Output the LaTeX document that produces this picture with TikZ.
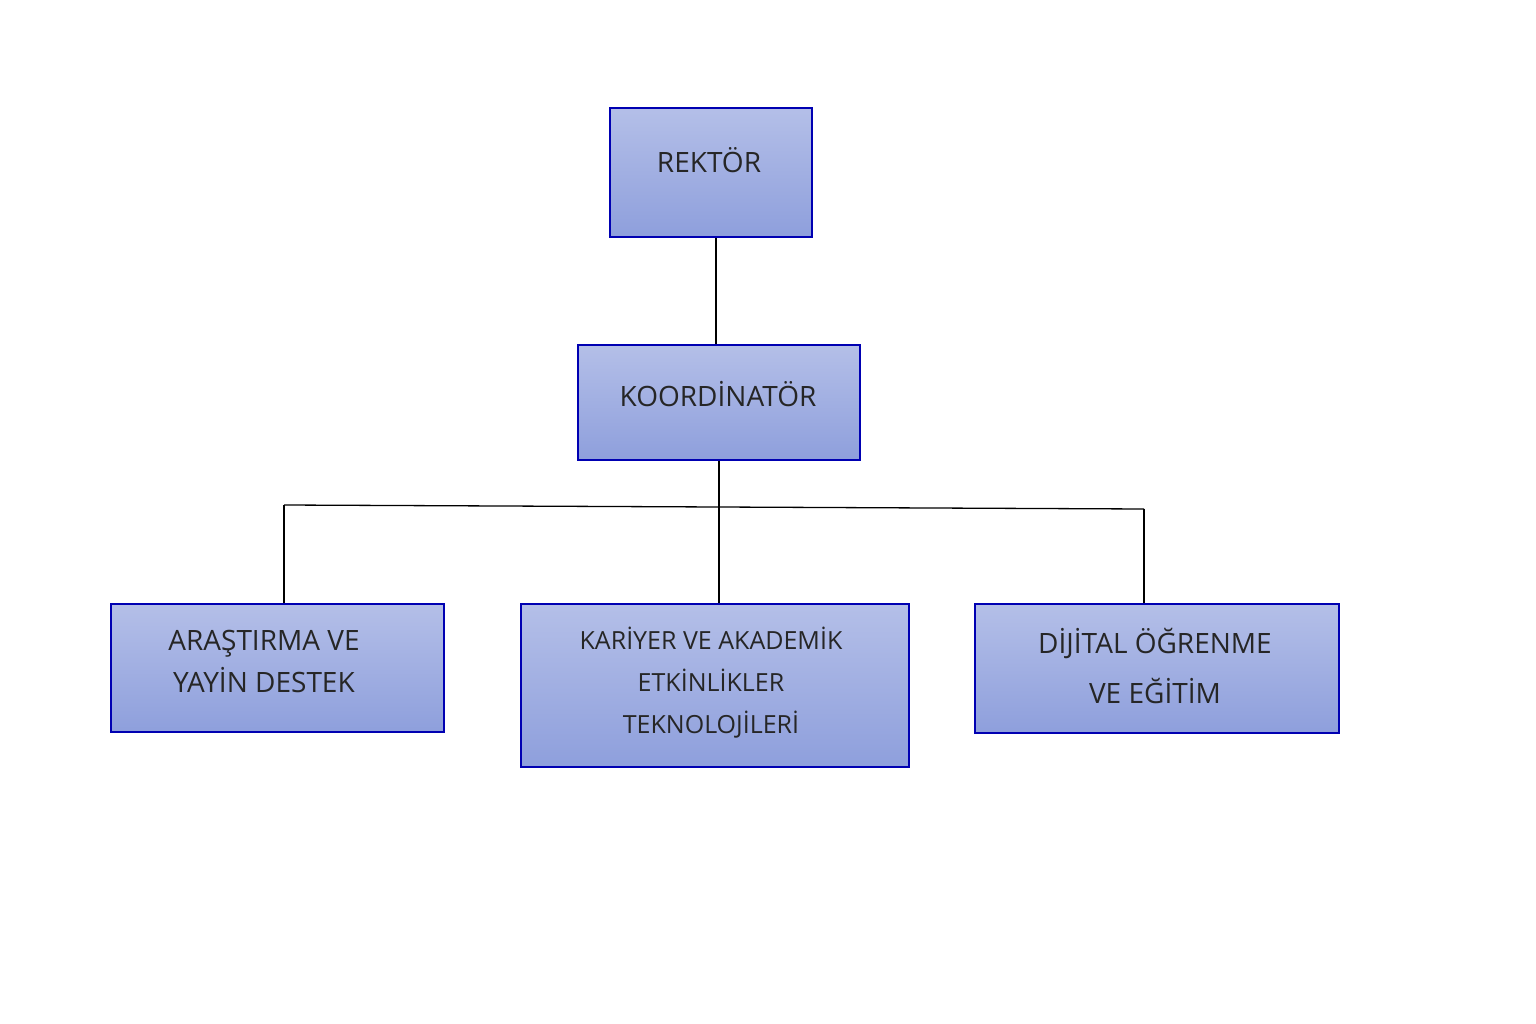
\documentclass[tikz,border=0pt]{standalone}
\usepackage{fontspec}
\setmainfont{Open Sans}
\usetikzlibrary{positioning}
\tikzset{unitbox/.style={draw=blue!70!black, line width=1.2pt, top color=boxtop, bottom color=boxbot, rectangle, inner sep=0pt},
         boxtext/.style={font=\fontsize{28}{42}\selectfont, align=center, text=black!85},
         link/.style={line width=1.3pt, black}}
\definecolor{boxtop}{HTML}{B4BFE8}
\definecolor{boxbot}{HTML}{8E9FDC}
\begin{document}
\begin{tikzpicture}[x=1pt,y=-1pt]
    \useasboundingbox (0,0) rectangle (1536,1024);
    % boxes
    \node[unitbox, minimum width=202pt, minimum height=129pt] (rektor) at (711,172.5) {};
    \node[unitbox, minimum width=282pt, minimum height=115pt] (koord) at (719,402.5) {};
    \node[unitbox, minimum width=333pt, minimum height=128pt] (arastirma) at (277.5,668) {};
    \node[unitbox, minimum width=388pt, minimum height=163pt] (kariyer) at (715,685.5) {};
    \node[unitbox, minimum width=364pt, minimum height=129pt] (dijital) at (1157,668.5) {};
    % texts
    \node[boxtext] (trektor) at (709,160) {REKTÖR};
    \node[boxtext] (tkoord) at (718,394) {KOORDİNATÖR};
    \node[boxtext] (tarastirma) at (264,661) {ARAŞTIRMA VE\\YAYİN DESTEK};
    \node[boxtext, font=\fontsize{25}{42}\selectfont] (tkariyer) at (711,683) {KARİYER VE AKADEMİK\\ETKİNLİKLER\\TEKNOLOJİLERİ};
    \node[boxtext, font=\fontsize{28}{50}\selectfont] (tdijital) at (1155,666) {DİJİTAL ÖĞRENME\\VE EĞİTİM};
    % connectors
    \coordinate (barleft) at (284,505);
    \coordinate (barmid) at (719,507);
    \coordinate (barright) at (1144,509);
    \draw[link] (rektor.south -| 716,0) -- (koord.north -| 716,0);
    \draw[link] (koord.south) -- (kariyer.north -| koord.south);
    \draw[link] (barleft) -- (barmid) -- (barright);
    \draw[link] (barleft) -- (arastirma.north -| barleft);
    \draw[link] (barright) -- (dijital.north -| barright);
\end{tikzpicture}
\end{document}
